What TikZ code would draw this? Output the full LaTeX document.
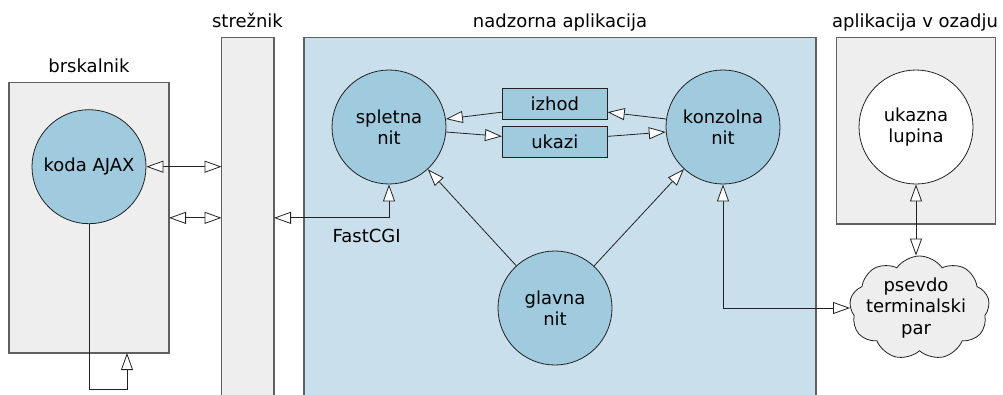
\documentclass[tikz,border=0pt]{standalone}
\usepackage{fontspec}
\setmainfont{DejaVu Sans}
\usetikzlibrary{arrows.meta,shapes.symbols,calc}
\definecolor{boxgray}{HTML}{EEEEEE}
\definecolor{appblue}{HTML}{C9E0EC}
\definecolor{circblue}{HTML}{A0CBDE}
\definecolor{frame}{HTML}{606060}
\definecolor{ink}{HTML}{222222}
\begin{document}
\begin{tikzpicture}[x=1pt,y=-1pt,
  font=\fontsize{18}{21.5}\selectfont,
  >={Triangle[fill=white,length=17pt,width=12pt]},
  container/.style={draw=frame, line width=1.3pt, anchor=north west, inner sep=0pt, outer sep=0pt},
  thread/.style={circle, draw=ink, line width=0.8pt, fill=circblue, minimum size=114pt, inner sep=0pt, align=center},
  buf/.style={rectangle, draw=ink, fill=circblue, line width=0.8pt, minimum width=105pt, minimum height=30.7pt, inner sep=0pt},
  conn/.style={draw=ink, line width=0.8pt},
  title/.style={anchor=base, inner sep=0pt}
]
\useasboundingbox (0,0) rectangle (1003,394);
% containers
\node[container, fill=boxgray, minimum width=160pt, minimum height=270.3pt] (browser) at (9,82.7) {};
\node[container, fill=boxgray, minimum width=52.5pt, minimum height=380pt] (server) at (221.5,37.5) {};
\node[container, fill=appblue, minimum width=512pt, minimum height=380pt] (app) at (304,37.7) {};
\node[container, fill=boxgray, minimum width=159.2pt, minimum height=186.7pt] (bg) at (836.5,37.3) {};
% titles
\node[title] (tbrowser) at (89,72) {brskalnik};
\node[title] (tserver) at (247.5,27) {strežnik};
\node[title] (tapp) at (560,27) {nadzorna aplikacija};
\node[title] (tbg) at (915,27) {aplikacija v ozadju};
% threads
\node[thread] (ajax) at (89,166.7) {koda AJAX};
\node[thread] (web) at (389,127) {spletna\\nit};
\node[thread] (console) at (723,127) {konzolna\\nit};
\node[thread] (main) at (555,308) {glavna\\nit};
\node[thread, fill=white] (shell) at (916,127) {ukazna\\lupina};
% buffers
\node[buf] (izhod) at (554.8,103.7) {izhod};
\node[buf] (ukazi) at (554.8,141.7) {ukazi};
% pseudo terminal
\node[cloud, cloud puffs=9, cloud puff arc=110, draw=ink, line width=0.8pt, fill=boxgray,
      minimum width=140pt, minimum height=104pt, inner sep=0pt] (pty) at (919.5,308) {};
\node[align=center, inner sep=0pt] (ptytext) at (916,308) {psevdo\\terminalski\\par};
\node[title] (fcgi) at (366.7,242.7) {FastCGI};
\coordinate (loop) at (127,389.7);
% connectors
\draw[conn,<->] (ajax.east) -- (ajax.east -| server.west);
\draw[conn,<->] (browser.east) -- (browser.east -| server.west);
\draw[conn,->] (ajax.south) |- (loop) -- (loop |- browser.south);
\draw[conn,<->] (browser.east -| server.east) -| (web.south);
\draw[conn,->] (console.172) -- ($(izhod.south east)+(0,-7.3)$);
\draw[conn,->] ($(izhod.south west)+(0,-7.3)$) -- (web.8);
\draw[conn,->] (web.-5) -- ($(ukazi.north west)+(0,10.4)$);
\draw[conn,->] ($(ukazi.north east)+(0,10.4)$) -- (console.185);
\draw[conn,->] (main) -- (web);
\draw[conn,->] (main) -- (console);
\draw[conn,<->] (console.south) |- (pty.west);
\draw[conn,<->] (shell.south) -- (shell.south |- pty.north);
\end{tikzpicture}
\end{document}
